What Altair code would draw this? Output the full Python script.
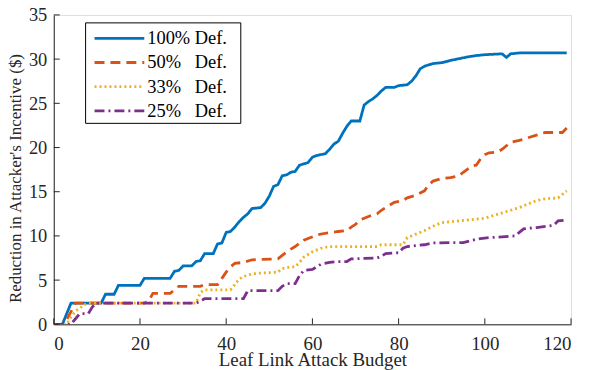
import altair as alt
import pandas as pd

series_names = ["100% Def.", "50%\u00a0\u00a0\u00a0Def.", "33%\u00a0\u00a0\u00a0Def.", "25%\u00a0\u00a0\u00a0Def."]
colors = ["#0072BD", "#D95319", "#EDB120", "#7E2F8E"]
dashes = [[1, 0], [10, 6], [2, 3], [10, 4, 2, 4]]

x_100 = [0, 1, 2, 4, 11, 12, 14, 15, 20, 21, 27, 28, 29, 30, 32, 33, 34, 35, 37, 38, 39, 40, 41, 42, 43, 44, 45, 46, 48, 49,
         50, 51, 52, 53, 54, 55, 56, 57, 59, 60, 61, 63, 64, 65, 66, 67, 68, 69, 71, 72, 73, 74, 75, 76, 77, 79, 80, 82, 83, 84,
         85, 86, 88, 90, 92, 94, 96, 98, 100, 102, 104, 105, 106, 108, 110, 119]
y_100 = [0, 0, 0, 2.4, 2.4, 3.4, 3.4, 4.4, 4.4, 5.2, 5.2, 6.0, 6.1, 6.6, 6.6, 7.1, 7.2, 8.0, 8.0, 9.1, 9.2, 10.4, 10.5, 11.0, 11.6, 12.1, 12.5, 13.1, 13.2, 13.7,
         14.5, 15.6, 15.8, 16.8, 16.9, 17.2, 17.3, 18.0, 18.3, 18.9, 19.1, 19.3, 19.8, 20.4, 20.7, 21.6, 22.4, 23.0, 23.0, 24.8, 25.2, 25.5, 25.9, 26.4, 26.8, 26.8, 27.0, 27.1, 27.5, 28.1,
         28.9, 29.2, 29.5, 29.6, 29.85, 30.05, 30.25, 30.4, 30.5, 30.55, 30.6, 30.2, 30.6, 30.7, 30.7, 30.7]

x_50 = [0, 2, 3, 5, 21, 22, 23, 27, 29, 34, 35, 38, 39, 40, 41, 42, 44, 46, 52, 53, 55, 56, 58, 59, 61, 63, 66, 68, 69, 70,
        71, 73, 75, 76, 77, 79, 81, 82, 84, 86, 87, 88, 90, 92, 94, 95, 97, 98, 99, 100, 101, 103, 104, 106, 108, 110, 112, 114, 118, 119]
y_50 = [0, 0, 0.5, 2.4, 2.4, 2.6, 3.5, 3.5, 4.3, 4.3, 4.5, 4.5, 5.2, 5.9, 6.5, 6.9, 7.0, 7.3, 7.4, 7.8, 8.5, 8.8, 9.5, 9.7, 10.1, 10.3, 10.5, 10.6, 11.0, 11.3,
        11.8, 12.2, 12.5, 12.9, 13.2, 13.8, 14.0, 14.3, 14.6, 15.1, 15.8, 16.2, 16.5, 16.6, 16.8, 17.2, 17.9, 18.0, 18.7, 19.2, 19.4, 19.5, 19.8, 20.6, 20.8, 21.1, 21.4, 21.7, 21.7, 22.2]

x_33 = [0, 3, 4, 5, 6, 7, 8, 33, 34, 35, 41, 42, 43, 44, 46, 48, 52, 53, 55, 56, 57, 58, 60, 62, 64, 66, 75, 76, 81, 82,
        84, 86, 88, 90, 92, 96, 100, 102, 104, 106, 108, 110, 112, 114, 117, 118, 119]
y_33 = [0, 0, 0.8, 1.5, 1.8, 2.2, 2.4, 2.4, 3.6, 3.9, 3.9, 4.5, 5.1, 5.4, 5.7, 5.8, 5.9, 6.3, 6.5, 6.5, 7.0, 7.6, 8.2, 8.6, 8.8, 8.8, 8.8, 9.0, 9.0, 9.8,
        10.2, 10.6, 11.1, 11.5, 11.6, 11.8, 12.0, 12.3, 12.6, 12.9, 13.2, 13.6, 14.0, 14.2, 14.3, 14.7, 15.1]

x_25 = [0, 4, 5, 6, 8, 9, 10, 33, 34, 35, 44, 45, 52, 53, 54, 56, 57, 58, 60, 61, 62, 64, 66, 68, 69, 75, 76, 77, 80, 81,
        82, 84, 86, 88, 92, 95, 97, 99, 101, 104, 107, 108, 109, 112, 116, 117, 119]
y_25 = [0, 0, 0.6, 1.2, 1.2, 2.0, 2.4, 2.4, 2.6, 2.9, 2.9, 3.8, 3.8, 4.3, 4.6, 4.6, 5.5, 6.1, 6.2, 6.5, 6.8, 7.0, 7.1, 7.1, 7.4, 7.5, 7.7, 8.0, 8.1, 8.6,
        8.8, 8.9, 9.0, 9.2, 9.25, 9.25, 9.5, 9.7, 9.8, 9.9, 10.0, 10.4, 10.8, 10.95, 11.2, 11.7, 11.8]

x_ticks = [0, 20, 40, 60, 80, 100, 120]
y_ticks = [0, 5, 10, 15, 20, 25, 30, 35]

xs = [x_100, x_50, x_33, x_25]
ys = [y_100, y_50, y_33, y_25]
rows = []
for name, xv, yv in zip(series_names, xs, ys):
    for a, b in zip(xv, yv):
        rows.append({"budget": a, "value": b, "series": name})
df = pd.DataFrame(rows)
leg_df = pd.DataFrame({"series": series_names})

FONT = "Liberation Serif"
AX = "#262626"
W, H = 520, 311

xscale = alt.Scale(domain=[0, 120], nice=False, zero=False)
yscale = alt.Scale(domain=[0, 35], nice=False)
cscale = alt.Scale(domain=series_names, range=colors)
dscale = alt.Scale(domain=series_names, range=dashes)
legy = alt.Scale(type="point", domain=series_names, range=[23.5, 96.5], padding=0)

lines = alt.Chart(df).mark_line(strokeWidth=2.8, clip=True).encode(
    x=alt.X("budget:Q", scale=xscale,
            axis=alt.Axis(values=x_ticks, ticks=False, grid=False, domainColor=AX, domainWidth=1,
                          labelColor=AX, labelFont=FONT, labelFontSize=19, labelPadding=10,
                          title="Leaf Link Attack Budget", titleFont=FONT, titleFontSize=19,
                          titleFontWeight="normal", titleColor=AX, titlePadding=-3)),
    y=alt.Y("value:Q", scale=yscale,
            axis=alt.Axis(values=y_ticks, ticks=False, grid=False, domainColor=AX, domainWidth=1,
                          labelColor=AX, labelFont=FONT, labelFontSize=18.5, labelPadding=7,
                          title="Reduction in Attacker's Incentive ($)", titleFont=FONT, titleFontSize=17,
                          titleFontWeight="normal", titleColor=AX, titlePadding=4, titleY=164)),
    color=alt.Color("series:N", scale=cscale, legend=None),
    strokeDash=alt.StrokeDash("series:N", scale=dscale, legend=None),
    detail="series:N",
)

xt = alt.Chart(pd.DataFrame({"t": x_ticks})).mark_rule(color=AX, strokeWidth=1).encode(
    x=alt.X("t:Q", scale=xscale), y=alt.value(H), y2=alt.value(H - 6))
yt = alt.Chart(pd.DataFrame({"t": y_ticks})).mark_rule(color=AX, strokeWidth=1).encode(
    y=alt.Y("t:Q", scale=yscale, axis=None), x=alt.value(0), x2=alt.value(6))

leg_box = alt.Chart(pd.DataFrame({"k": [0]})).mark_rect(fill="white", stroke="black", strokeWidth=1).encode(
    x=alt.value(32), x2=alt.value(188), y=alt.value(8), y2=alt.value(109))
leg_sym = alt.Chart(leg_df).mark_rule(strokeWidth=2.8).encode(
    x=alt.value(41), x2=alt.value(91),
    y=alt.Y("series:N", scale=legy, axis=None),
    color=alt.Color("series:N", scale=cscale, legend=None),
    strokeDash=alt.StrokeDash("series:N", scale=dscale, legend=None),
)
leg_txt = alt.Chart(leg_df).mark_text(align="left", baseline="middle", font=FONT, fontSize=18.5, color="black").encode(
    x=alt.value(94),
    y=alt.Y("series:N", scale=legy, axis=None),
    text="series:N",
)

chart = alt.layer(lines, xt, yt, leg_box, leg_sym, leg_txt).resolve_scale(y="independent").properties(
    width=W, height=H,
    autosize=alt.AutoSizeParams(type="none"),
    padding={"left": 46, "top": 6, "right": 10, "bottom": 50},
).configure_view(stroke=None).configure(background="white")

chart.save("out.html", embed_options={"renderer": "svg", "actions": False})
